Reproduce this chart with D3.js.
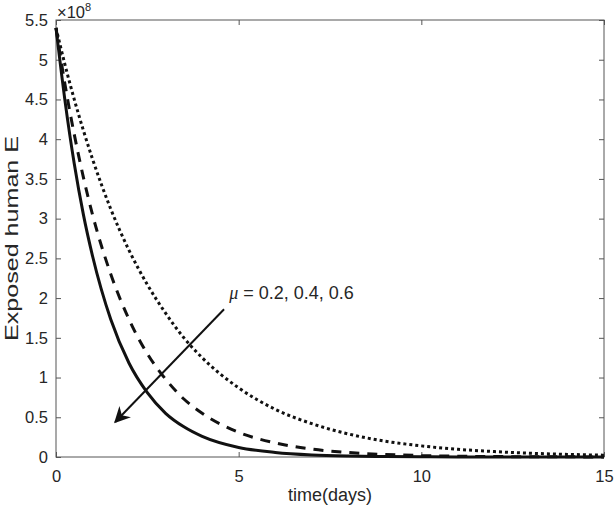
<!DOCTYPE html>
<html>
<head>
<meta charset="utf-8">
<script src="https://cdn.jsdelivr.net/npm/d3@7"></script>
<style>
  body { margin: 0; background: #fff; }
  text { font-family: "Liberation Sans", Arial, Helvetica, sans-serif; fill: #262626; }
</style>
</head>
<body>
<div id="chart-area"></div>
<script>
// time points (days)
var days = [0, 0.25, 0.5, 0.75, 1, 1.5, 2, 2.5, 3, 3.5, 4, 5, 6, 7, 8, 9, 10, 11, 12, 13, 14, 15];

// Exposed human E (x 10^8)
var mu02 = [5.40, 4.93, 4.50, 4.11, 3.75, 3.12, 2.60, 2.17, 1.81, 1.50, 1.25, 0.87, 0.60, 0.42, 0.29, 0.20, 0.14, 0.097, 0.068, 0.047, 0.033, 0.023];
var mu04 = [5.40, 4.68, 4.06, 3.52, 3.05, 2.30, 1.73, 1.30, 0.98, 0.73, 0.55, 0.31, 0.177, 0.100, 0.057, 0.032, 0.018, 0.010, 0.006, 0.003, 0.002, 0.001];
var mu06 = [5.40, 4.47, 3.69, 3.05, 2.53, 1.73, 1.18, 0.81, 0.55, 0.38, 0.26, 0.12, 0.057, 0.026, 0.012, 0.006, 0.003, 0.001, 0.001, 0.0003, 0.0002, 0.0001];

var xTicks = [0, 5, 10, 15];
var yTicks = [0, 0.5, 1, 1.5, 2, 2.5, 3, 3.5, 4, 4.5, 5, 5.5];

// arrow annotation, in data units
var arrowFrom = [4.6, 1.86];
var arrowTo = [1.62, 0.44];

var margin = { left: 56, right: 10, top: 20, bottom: 54 };
var width = 614 - margin.left - margin.right,
    height = 511 - margin.top - margin.bottom;

var svg = d3.select("#chart-area")
    .append("svg")
    .attr("width", 614)
    .attr("height", 511);

var g = svg.append("g")
    .attr("transform", "translate(" + margin.left + ", " + margin.top + ")");

var x = d3.scaleLinear().domain([0, 15]).range([0, width]);
var y = d3.scaleLinear().domain([0, 5.5]).range([height, 0]);

// axes, ticks pointing inward like matlab
var xAxisCall = d3.axisBottom(x).tickValues(xTicks).tickSizeInner(-5).tickSizeOuter(0).tickPadding(13);
var yAxisCall = d3.axisLeft(y).tickValues(yTicks).tickSizeInner(-5).tickSizeOuter(0).tickPadding(8)
    .tickFormat(function (d) { return d; });

g.append("g")
    .attr("class", "x axis")
    .attr("transform", "translate(0, " + height + ")")
    .call(xAxisCall);
g.append("g")
    .attr("class", "y axis")
    .call(yAxisCall);

// ticks on top and right side
g.append("g").call(d3.axisTop(x).tickValues(xTicks).tickSizeInner(-5).tickSizeOuter(0).tickFormat(""));
g.append("g").attr("transform", "translate(" + width + ", 0)")
    .call(d3.axisRight(y).tickValues(yTicks).tickSizeInner(-5).tickSizeOuter(0).tickFormat(""));

g.selectAll(".domain").remove();
g.selectAll(".tick line").attr("stroke", "#555");
g.selectAll(".tick text").attr("font-size", "16.5px").attr("font-family", null);

// box
g.append("rect")
    .attr("width", width)
    .attr("height", height)
    .attr("fill", "none")
    .attr("stroke", "#555")
    .attr("stroke-width", 1);

// curves
var line = d3.line()
    .x(function (d) { return x(d[0]); })
    .y(function (d) { return y(d[1]); })
    .curve(d3.curveMonotoneX);

var series = [
    { vals: mu06, dash: null },
    { vals: mu04, dash: "10,8" },
    { vals: mu02, dash: "3,3" }
];

g.selectAll(".curve")
    .data(series)
    .enter()
    .append("path")
    .attr("class", "curve")
    .attr("fill", "none")
    .attr("stroke", "#111")
    .attr("stroke-width", 3)
    .attr("stroke-dasharray", function (d) { return d.dash; })
    .attr("d", function (d) {
        return line(days.map(function (t, i) { return [t, d.vals[i]]; }));
    });

// arrow
svg.append("defs").append("marker")
    .attr("id", "head")
    .attr("viewBox", "0 0 10 10")
    .attr("refX", 9)
    .attr("refY", 5)
    .attr("markerWidth", 8)
    .attr("markerHeight", 8)
    .attr("markerUnits", "strokeWidth")
    .attr("orient", "auto")
    .append("path")
    .attr("d", "M0,0 L10,5 L0,10 L3,5 Z")
    .attr("fill", "#111");

g.append("line")
    .attr("x1", x(arrowFrom[0]))
    .attr("y1", y(arrowFrom[1]))
    .attr("x2", x(arrowTo[0]))
    .attr("y2", y(arrowTo[1]))
    .attr("stroke", "#111")
    .attr("stroke-width", 2)
    .attr("marker-end", "url(#head)");

var ann = g.append("text")
    .attr("x", x(4.74))
    .attr("y", y(1.99))
    .attr("font-size", "18px");
ann.append("tspan").attr("font-style", "italic").attr("font-family", "'Liberation Serif', serif").text("μ");
ann.append("tspan").text(" = 0.2, 0.4, 0.6");

// exponent
var ex = g.append("text")
    .attr("x", 1)
    .attr("y", -2)
    .attr("font-size", "16.5px");
ex.append("tspan").text("×10");
ex.append("tspan").attr("font-size", "11px").attr("dy", -7).text("8");

// X Label
g.append("text")
    .attr("x", width / 2)
    .attr("y", height + 44)
    .attr("font-size", "18px")
    .attr("text-anchor", "middle")
    .text("time(days)");

// Y Label
g.append("text")
    .attr("x", -(height / 2))
    .attr("y", -38)
    .attr("font-size", "18px")
    .attr("text-anchor", "middle")
    .attr("textLength", 205)
    .attr("lengthAdjust", "spacingAndGlyphs")
    .attr("transform", "rotate(-90)")
    .text("Exposed human E");
</script>
</body>
</html>
